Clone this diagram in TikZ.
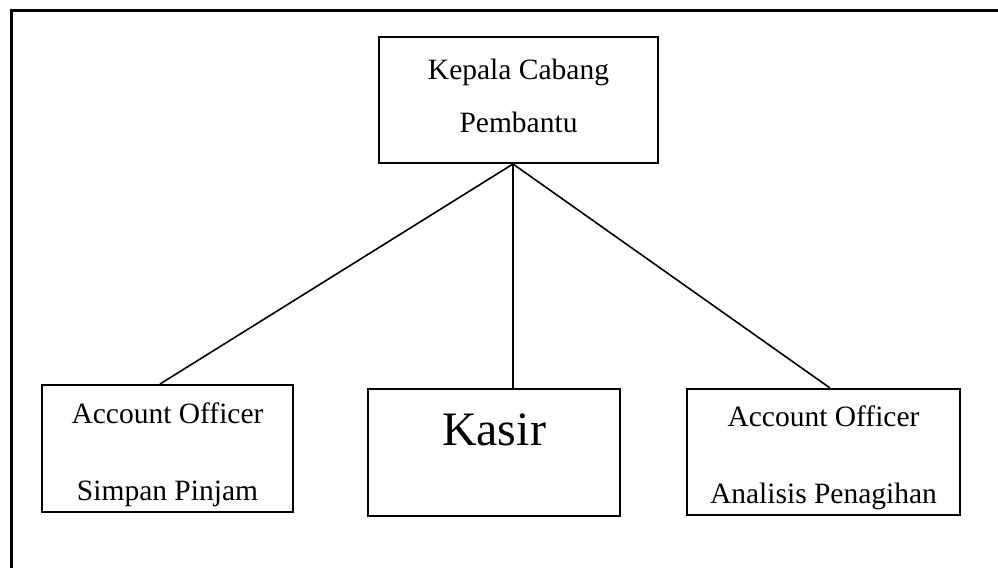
\documentclass[tikz,border=0pt]{standalone}
\usepackage{fontspec}
\setmainfont{Liberation Serif}
\usepackage{tikz}
\usetikzlibrary{positioning, calc}
\tikzset{
	unit/.style ={rectangle, draw=black, line width=2pt, inner sep=0pt, align=center, font=\fontsize{29.5}{53}\selectfont},
	unitlo/.style={unit, font=\fontsize{29.5}{76.5}\selectfont},
	% lines of the chart
	conn/.style ={draw=black, line width=1.6pt},
	frame/.style={draw=black, line width=3pt},
}
\begin{document}
\begin{tikzpicture}[x=1pt, y=-1pt]
	\useasboundingbox (0,0) rectangle (998,568);
	\draw[frame] (998,10.5) -- (11.5,10.5) -- (11.5,568);
	% head of the branch
	\node[unit, minimum width=279pt, text height=95pt, text depth=31pt] (kcp) at (518.5,100) {Kepala Cabang\\Pembantu};
	% staff below
	\node[unitlo, minimum width=251pt, text height=115pt, text depth=12pt] (aosp) at (167.5,448.5) {Account Officer\\Simpan Pinjam};
	\node[unit, minimum width=252pt, text height=56pt, text depth=71pt, font=\fontsize{48}{56}\selectfont] (kasir) at (494,452.5) {Kasir};
	\node[unitlo, minimum width=273pt, text height=114pt, text depth=12pt] (aoap) at (823.5,452) {Account Officer\\Analisis Penagihan};
	\coordinate (apex) at ([xshift=-5.5pt]kcp.south);
	\draw[conn] (apex) -- ([xshift=-7.5pt]aosp.north);
	\draw[conn] (apex) -- (apex |- kasir.north);
	\draw[conn] (apex) -- ([xshift=6.5pt]aoap.north);
\end{tikzpicture}
\end{document}
